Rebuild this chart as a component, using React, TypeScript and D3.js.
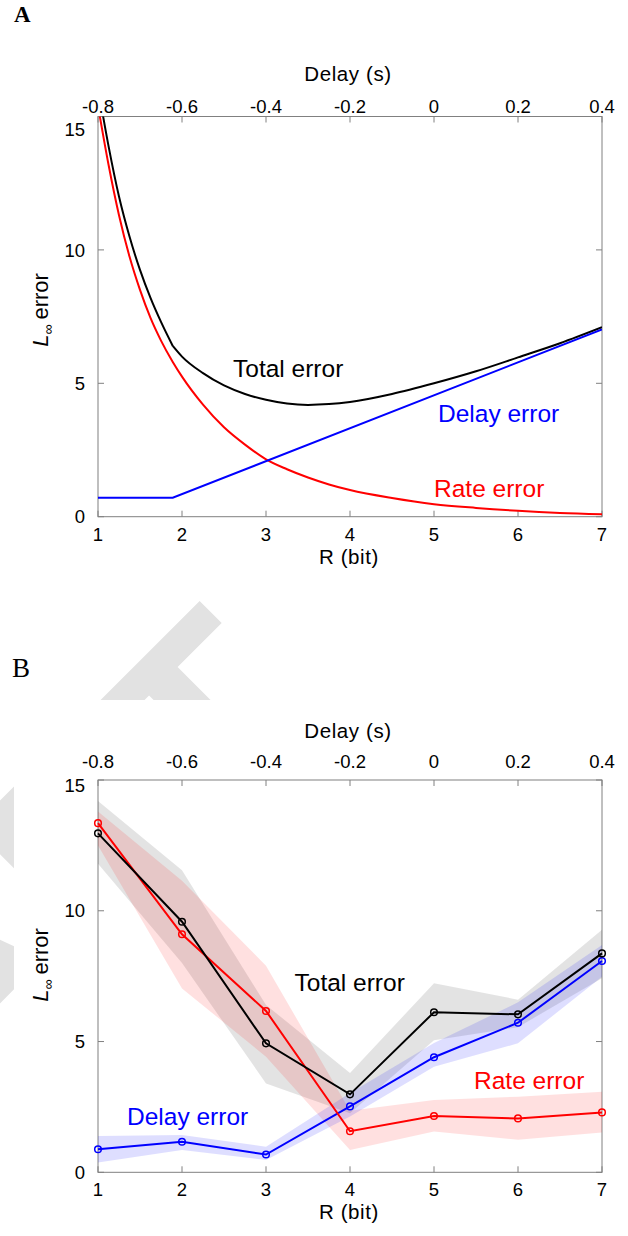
import * as d3 from "d3";
import { useEffect, useRef } from "react";

// shared axes
const rBits = [1, 2, 3, 4, 5, 6, 7];
const delayTicks = [-0.8, -0.6, -0.4, -0.2, 0, 0.2, 0.4];
const errorTicks = [0, 5, 10, 15];

// panel A: model curves
const modelR = [1, 1.125, 1.25, 1.375, 1.5, 1.625, 1.75, 1.89, 2, 2.25, 2.5, 2.75, 3, 3.25, 3.5, 3.75, 4, 4.5, 5, 5.5, 6, 6.5, 7];
const modelRate = [15.4, 13.2, 11.3, 9.75, 8.5, 7.45, 6.6, 5.8, 5.25, 4.2, 3.35, 2.7, 2.15, 1.78, 1.47, 1.21, 1.0, 0.7, 0.47, 0.33, 0.22, 0.14, 0.09];
const modelTotal = [16.1, 13.9, 12.0, 10.5, 9.25, 8.2, 7.3, 6.4, 6.0, 5.38, 4.92, 4.6, 4.38, 4.24, 4.19, 4.22, 4.3, 4.6, 5.0, 5.45, 5.97, 6.5, 7.1];
const modelDelayR = [1, 1.89, 7];
const modelDelay = [0.71, 0.71, 7.02];
const kinkR = 1.89;

// panel B: measured errors with spread
const measTotal = [12.96, 9.58, 4.93, 2.98, 6.12, 6.04, 8.37];
const measTotalHi = [14.2, 11.55, 6.4, 3.8, 7.23, 6.6, 9.27];
const measTotalLo = [11.8, 8.0, 3.4, 2.26, 5.05, 5.55, 7.42];
const measRate = [13.35, 9.1, 6.17, 1.57, 2.15, 2.06, 2.29];
const measRateHi = [13.8, 11.15, 7.9, 2.35, 2.76, 2.89, 3.08];
const measRateLo = [12.5, 7.03, 4.42, 0.85, 1.56, 1.24, 1.52];
const measDelay = [0.88, 1.17, 0.68, 2.52, 4.4, 5.72, 8.08];
const measDelayHi = [1.39, 1.43, 0.98, 3.03, 4.94, 6.5, 8.69];
const measDelayLo = [0.37, 0.85, 0.47, 2.13, 4.04, 4.93, 7.48];

const FONT = "'Liberation Sans', Arial, Helvetica, sans-serif";
const RED = "#ff0000";
const BLUE = "#0000ff";
const FRAME = "#808080";

const LEFT = 98;
const RIGHT = 602;

function drawFrame(svg: any, p: any) {
  const x = d3.scaleLinear().domain([1, 7]).range([LEFT, RIGHT]);
  const xTop = d3.scaleLinear().domain([-0.8, 0.4]).range([LEFT, RIGHT]);
  const y = d3.scaleLinear().domain([0, 15]).range([p.bottom, p.top]);
  const g = svg.append("g").attr("font-family", FONT);

  g.append("rect")
    .attr("x", LEFT)
    .attr("y", p.top)
    .attr("width", RIGHT - LEFT)
    .attr("height", p.bottom - p.top)
    .attr("fill", "none")
    .attr("stroke", FRAME)
    .attr("stroke-width", 1);

  const tk = 6;
  g.selectAll(".tb")
    .data(rBits)
    .join("line")
    .attr("x1", (d: number) => x(d))
    .attr("x2", (d: number) => x(d))
    .attr("y1", p.bottom)
    .attr("y2", p.bottom - tk)
    .attr("stroke", FRAME);
  g.selectAll(".tt")
    .data(delayTicks)
    .join("line")
    .attr("x1", (d: number) => xTop(d))
    .attr("x2", (d: number) => xTop(d))
    .attr("y1", p.top)
    .attr("y2", p.top + tk)
    .attr("stroke", FRAME);
  g.selectAll(".tl")
    .data(errorTicks)
    .join("line")
    .attr("x1", LEFT)
    .attr("x2", LEFT + tk)
    .attr("y1", (d: number) => y(d))
    .attr("y2", (d: number) => y(d))
    .attr("stroke", FRAME);
  g.selectAll(".tr")
    .data(errorTicks)
    .join("line")
    .attr("x1", RIGHT)
    .attr("x2", RIGHT - tk)
    .attr("y1", (d: number) => y(d))
    .attr("y2", (d: number) => y(d))
    .attr("stroke", FRAME);

  // tick labels
  g.selectAll(".lb")
    .data(rBits)
    .join("text")
    .attr("x", (d: number) => x(d))
    .attr("y", p.bottom + 24)
    .attr("text-anchor", "middle")
    .attr("font-size", 18.5)
    .text((d: number) => String(d));
  g.selectAll(".lt")
    .data(delayTicks)
    .join("text")
    .attr("x", (d: number) => xTop(d))
    .attr("y", p.topLabelY)
    .attr("text-anchor", "middle")
    .attr("font-size", 18.5)
    .text((d: number) => (d === 0 ? "0" : String(d)));
  g.selectAll(".ll")
    .data(errorTicks)
    .join("text")
    .attr("x", 85)
    .attr("y", (d: number) => (d === 15 ? p.top + p.shift15 : y(d)))
    .attr("dy", "0.36em")
    .attr("text-anchor", "end")
    .attr("font-size", 18.5)
    .text((d: number) => String(d));

  // axis titles
  g.append("text")
    .attr("x", 349)
    .attr("y", p.bottom + 47)
    .attr("text-anchor", "middle")
    .attr("font-size", 20.5)
    .attr("letter-spacing", 0.6)
    .text("R (bit)");
  g.append("text")
    .attr("x", 348)
    .attr("y", p.delayTitleY)
    .attr("text-anchor", "middle")
    .attr("font-size", 20.5)
    .attr("letter-spacing", 0.6)
    .text("Delay (s)");

  const yt = g
    .append("text")
    .attr("transform", `translate(48,${p.yTitleY}) rotate(-90)`)
    .attr("text-anchor", "middle")
    .attr("font-size", 22);
  yt.append("tspan").attr("font-style", "italic").text("L");
  yt.append("tspan").attr("font-size", 14).attr("dy", 5).text("∞");
  yt.append("tspan").attr("dy", -5).attr("dx", 5).text("error");

  svg
    .append("text")
    .attr("x", p.letterX)
    .attr("y", p.letterY)
    .attr("font-family", "'Liberation Serif', 'DejaVu Serif', serif")
    .attr("font-weight", p.letterWeight)
    .attr("font-size", p.letterSize)
    .text(p.letter);

  return { x, y };
}

function seriesLabel(svg: any, text: string, color: string, xPos: number, yPos: number) {
  svg
    .append("text")
    .attr("x", xPos)
    .attr("y", yPos)
    .attr("font-family", FONT)
    .attr("font-size", 24.5)
    .attr("fill", color)
    .text(text);
}

function App() {
  const svgRef = useRef<SVGSVGElement>(null);

  useEffect(() => {
    const svg = d3.select(svgRef.current);
    svg.selectAll("*").remove();

    // faint watermark behind panel B, hidden by the figure's white box
    svg
      .append("text")
      .attr("transform", "translate(338,735) rotate(-45)")
      .attr("text-anchor", "end")
      .attr("font-family", FONT)
      .attr("font-weight", "bold")
      .attr("font-size", 280)
      .attr("fill", "#e2e2e2")
      .text("DRAFT");
    svg.append("rect").attr("x", 14).attr("y", 700).attr("width", 614).attr("height", 536).attr("fill", "#fff");

    // ---------- panel A ----------
    const pa = {
      top: 116.5,
      bottom: 516.7,
      topLabelY: 112.5,
      delayTitleY: 81,
      shift15: 13,
      yTitleY: 310,
      letter: "A",
      letterX: 14,
      letterY: 22,
      letterSize: 23,
      letterWeight: "bold",
    };
    const A = drawFrame(svg, pa);
    svg
      .append("clipPath")
      .attr("id", "clipA")
      .append("rect")
      .attr("x", LEFT)
      .attr("y", pa.top)
      .attr("width", RIGHT - LEFT)
      .attr("height", pa.bottom - pa.top);
    const ga = svg.append("g").attr("clip-path", "url(#clipA)").attr("fill", "none").attr("stroke-width", 2);
    const idx = modelR.map((_, i) => i);
    const lineA = (vals: number[]) =>
      d3
        .line<number>()
        .x((i) => A.x(modelR[i]))
        .y((i) => A.y(vals[i]))
        .curve(d3.curveMonotoneX);
    ga.append("path").attr("d", lineA(modelRate)(idx)).attr("stroke", RED);
    ga.append("path")
      .attr("d", lineA(modelTotal)(idx.filter((i) => modelR[i] <= kinkR)))
      .attr("stroke", "#000");
    ga.append("path")
      .attr("d", lineA(modelTotal)(idx.filter((i) => modelR[i] >= kinkR)))
      .attr("stroke", "#000");
    ga.append("path")
      .attr(
        "d",
        d3
          .line<number>()
          .x((i) => A.x(modelDelayR[i]))
          .y((i) => A.y(modelDelay[i]))(modelDelayR.map((_, i) => i))
      )
      .attr("stroke", BLUE);
    seriesLabel(svg, "Total error", "#000", 233, 377);
    seriesLabel(svg, "Delay error", BLUE, 438, 421.5);
    seriesLabel(svg, "Rate error", RED, 434, 496.5);

    // ---------- panel B ----------
    const pb = {
      top: 780,
      bottom: 1172.3,
      topLabelY: 768,
      delayTitleY: 738,
      shift15: 5,
      yTitleY: 965,
      letter: "B",
      letterX: 12,
      letterY: 677,
      letterSize: 27,
      letterWeight: "normal",
    };
    const B = drawFrame(svg, pb);
    const gb = svg.append("g");
    const bands = [
      { lo: measTotalLo, hi: measTotalHi, fill: "rgba(0,0,0,0.11)" },
      { lo: measRateLo, hi: measRateHi, fill: "rgba(255,0,0,0.12)" },
      { lo: measDelayLo, hi: measDelayHi, fill: "rgba(0,0,255,0.13)" },
    ];
    const ii = rBits.map((_, i) => i);
    bands.forEach((b) => {
      gb.append("path")
        .attr(
          "d",
          d3
            .area<number>()
            .x((i) => B.x(rBits[i]))
            .y0((i) => B.y(b.lo[i]))
            .y1((i) => B.y(b.hi[i]))(ii)
        )
        .attr("fill", b.fill);
    });
    const lines = [
      { v: measDelay, c: BLUE },
      { v: measRate, c: RED },
      { v: measTotal, c: "#000" },
    ];
    lines.forEach((s) => {
      gb.append("path")
        .attr(
          "d",
          d3
            .line<number>()
            .x((i) => B.x(rBits[i]))
            .y((i) => B.y(s.v[i]))(ii)
        )
        .attr("fill", "none")
        .attr("stroke", s.c)
        .attr("stroke-width", 2);
      gb.selectAll(null)
        .data(ii)
        .join("circle")
        .attr("cx", (i: number) => B.x(rBits[i]))
        .attr("cy", (i: number) => B.y(s.v[i]))
        .attr("r", 3.3)
        .attr("fill", "none")
        .attr("stroke", s.c)
        .attr("stroke-width", 1.5);
    });
    seriesLabel(svg, "Total error", "#000", 294.5, 990.5);
    seriesLabel(svg, "Rate error", RED, 474, 1089);
    seriesLabel(svg, "Delay error", BLUE, 127, 1125);
  }, []);

  return (
    <svg
      ref={svgRef}
      width={628}
      height={1236}
      style={{ position: "absolute", left: 0, top: 0, background: "#fff" }}
    />
  );
}

export default App;
